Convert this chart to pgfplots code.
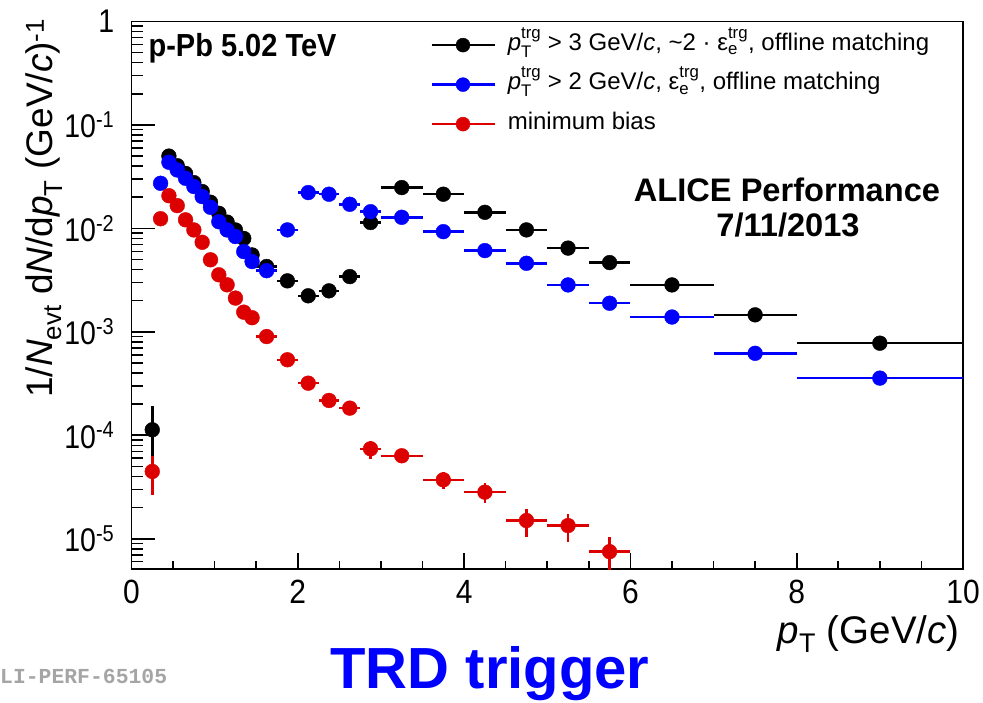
\documentclass[border=0pt]{standalone}
\usepackage{fontspec}
\setmainfont{Liberation Sans}
\setmonofont{Liberation Mono}
\usepackage{amsmath}
\usepackage{graphicx}
\usepackage{pgfplots}
\usepackage{pgfplotstable}
\pgfplotsset{compat=1.18}
\definecolor{rootred}{RGB}{221,0,0}
\definecolor{rootblue}{RGB}{0,0,255}
\definecolor{prelgray}{RGB}{165,165,165}

\pgfplotstableread{
x y ex ey
0.25 1.13e-4 0.05 0.8e-4
0.45 0.0500 0.05 0
0.55 0.0404 0.05 0
0.65 0.0340 0.05 0
0.75 0.0277 0.05 0
0.85 0.0227 0.05 0
0.95 0.0179 0.05 0
1.05 0.0140 0.05 0
1.15 0.0115 0.05 0
1.25 0.00966 0.05 0
1.35 0.00800 0.05 0
1.45 0.00554 0.05 0
1.625 0.00428 0.125 0
1.875 0.00311 0.125 0
2.125 0.00223 0.125 0
2.375 0.00249 0.125 0
2.625 0.00342 0.125 0
2.875 0.0114 0.125 0
3.25 0.0248 0.25 0
3.75 0.0214 0.25 0
4.25 0.0143 0.25 0
4.75 0.00967 0.25 0
5.25 0.00645 0.25 0
5.75 0.00467 0.25 0
6.5 0.00284 0.5 0
7.5 0.00146 0.5 0
9 0.000777 1.0 0
}\tabblack

\pgfplotstableread{
x y ex ey
0.35 0.0273 0.05 0
0.45 0.0436 0.05 0
0.55 0.0367 0.05 0
0.65 0.0305 0.05 0
0.75 0.0254 0.05 0
0.85 0.0203 0.05 0
0.95 0.0160 0.05 0
1.05 0.0116 0.05 0
1.15 0.00966 0.05 0
1.25 0.00834 0.05 0
1.35 0.00597 0.05 0
1.45 0.00478 0.05 0
1.625 0.00390 0.125 0
1.875 0.00967 0.125 0
2.125 0.0222 0.125 0
2.375 0.0214 0.125 0
2.625 0.0171 0.125 0
2.875 0.0145 0.125 0
3.25 0.0128 0.25 0
3.75 0.0093 0.25 0
4.25 0.0061 0.25 0
4.75 0.0046 0.25 0
5.25 0.00284 0.25 0
5.75 0.00189 0.25 0
6.5 0.00139 0.5 0
7.5 0.00062 0.5 0
9 0.000357 1.0 0
}\tabblue

\pgfplotstableread{
x y ex ey
0.25 4.47e-5 0.05 1.8e-5
0.35 0.0124 0.05 0
0.45 0.0207 0.05 0
0.55 0.0166 0.05 0
0.65 0.0121 0.05 0
0.75 0.00966 0.05 0
0.85 0.00734 0.05 0
0.95 0.00497 0.05 0
1.05 0.00356 0.05 0
1.15 0.00285 0.05 0
1.25 0.00212 0.05 0
1.35 0.00155 0.05 0
1.45 0.00137 0.05 0
1.625 9.0e-4 0.125 0
1.875 5.37e-4 0.125 0
2.125 3.19e-4 0.125 0
2.375 2.17e-4 0.125 0
2.625 1.83e-4 0.125 0
2.875 7.4e-5 0.125 1.5e-5
3.25 6.34e-5 0.25 6e-6
3.75 3.71e-5 0.25 7e-6
4.25 2.82e-5 0.25 6.2e-6
4.75 1.50e-5 0.25 4.5e-6
5.25 1.34e-5 0.25 4e-6
5.75 7.5e-6 0.25 3e-6
}\tabred

\newcommand{\ptrg}{\textit{p}$_{\text{T}}^{\text{trg}}$}
\newcommand{\xtl}[1]{\scalebox{1}[1.12]{#1}}
\newcommand{\ytl}[1]{\scalebox{1}[1.15]{10\textsuperscript{#1}}}

\begin{document}
\begin{tikzpicture}
% axis carrying the x ticks
\begin{axis}[
  at={(0pt,0pt)}, anchor=south west,
  scale only axis, width=831.5pt, height=547.5pt,
  xmin=0, xmax=10, ymode=log, ymin=5.096e-6, ymax=1,
  axis line style={line width=1.6pt},
  tick align=inside, tick pos=left,
  every tick/.style={line width=1.6pt, black},
  tick label style={font=\fontsize{30}{36}\selectfont},
  ytick=\empty,
  xtick={0,2,4,6,8,10}, xticklabels={\xtl{0},\xtl{2},\xtl{4},\xtl{6},\xtl{8},\xtl{10}},
  minor x tick num=3,
  major tick length=16pt, minor tick length=8pt,
  xticklabel style={inner ysep=0pt, yshift=-11pt}]
\end{axis}
% main axis with y ticks, data and legend
\begin{axis}[
  at={(0pt,0pt)}, anchor=south west, name=main,
  scale only axis, width=831.5pt, height=547.5pt,
  xmin=0, xmax=10, ymode=log, ymin=5.096e-6, ymax=1,
  axis line style={line width=1.6pt},
  tick align=inside, tick pos=left,
  every tick/.style={line width=1.6pt, black},
  tick label style={font=\fontsize{28.5}{34}\selectfont},
  xtick=\empty,
  ytick={1e-5,1e-4,1e-3,1e-2,1e-1,1},
  yticklabels={\ytl{-5},\ytl{-4},\ytl{-3},\ytl{-2},\ytl{-1},\scalebox{1}[1.15]{1}},
  minor ytick={6e-6,7e-6,8e-6,9e-6,2e-5,3e-5,4e-5,5e-5,6e-5,7e-5,8e-5,9e-5,2e-4,3e-4,4e-4,5e-4,6e-4,7e-4,8e-4,9e-4,2e-3,3e-3,4e-3,5e-3,6e-3,7e-3,8e-3,9e-3,2e-2,3e-2,4e-2,5e-2,6e-2,7e-2,8e-2,9e-2,2e-1,3e-1,4e-1,5e-1,6e-1,7e-1,8e-1,9e-1},
  major tick length=24pt, minor tick length=12pt,
  yticklabel style={inner xsep=0pt, xshift=-17pt},
  legend style={at={(rel axis cs:0.359,0.981)}, anchor=north west,
    draw=none, fill=none, inner sep=0pt,
    font=\fontsize{24}{28}\selectfont,
    row sep=13.5pt, column sep=12pt,
    nodes={inner sep=0pt, text height=18pt, text depth=8pt}},
  legend cell align=left,
]
\addplot[black, only marks, mark=*, mark size=7.4pt, mark options={solid, line width=0.4pt},
  legend image code/.code={\draw[black, line width=2.6pt] (0pt,0pt) -- (63pt,0pt); \fill[black] (31.5pt,0pt) circle (7pt);},
  error bars/.cd, x dir=both, x explicit, y dir=both, y explicit,
  error mark=none, error bar style={line width=2.5pt, solid}]
  table[x=x, y=y, x error=ex, y error=ey] {\tabblack};
\addlegendentry{\ptrg\ > 3 GeV/\textit{c}, \textasciitilde2 · ε$_{\text{e}}^{\text{trg}}$, offline matching}
\addplot[rootblue, only marks, mark=*, mark size=7.4pt, mark options={solid, line width=0.4pt},
  legend image code/.code={\draw[rootblue, line width=2.6pt] (0pt,0pt) -- (63pt,0pt); \fill[rootblue] (31.5pt,0pt) circle (7pt);},
  error bars/.cd, x dir=both, x explicit, y dir=both, y explicit,
  error mark=none, error bar style={line width=2.5pt, solid}]
  table[x=x, y=y, x error=ex, y error=ey] {\tabblue};
\addlegendentry{\ptrg\ > 2 GeV/\textit{c}, ε$_{\text{e}}^{\text{trg}}$, offline matching}
\addplot[rootred, only marks, mark=*, mark size=7.4pt, mark options={solid, line width=0.4pt},
  legend image code/.code={\draw[rootred, line width=2.6pt] (0pt,0pt) -- (63pt,0pt); \fill[rootred] (31.5pt,0pt) circle (7pt);},
  error bars/.cd, x dir=both, x explicit, y dir=both, y explicit,
  error mark=none, error bar style={line width=2.5pt, solid}]
  table[x=x, y=y, x error=ex, y error=ey] {\tabred};
\addlegendentry{minimum bias}
\end{axis}

% titles and annotations (origin = lower left corner of the axis)
\path (-78.5pt,554pt) node[rotate=90, anchor=base east, font=\fontsize{37}{42}\selectfont]
  {1/\textit{N}\textsubscript{evt} d\textit{N}/d\textit{p}\textsubscript{T} (GeV/\textit{c})\textsuperscript{-1}};
\path (831.5pt,-74pt) node[anchor=base east, font=\fontsize{38.5}{44}\selectfont]
  {\textit{p}\textsubscript{T} (GeV/\textit{c})};
\path (13.5pt,512pt) node[anchor=base west, font=\bfseries\fontsize{29}{34}\selectfont] {\scalebox{1}[1.1]{p-Pb 5.02 TeV}};
\path (655.5pt,367pt) node[anchor=base, font=\bfseries\fontsize{32.6}{38}\selectfont] {ALICE Performance};
\path (656.5pt,332pt) node[anchor=base, font=\bfseries\fontsize{32.6}{38}\selectfont] {7/11/2013};
\path (358.5pt,-119pt) node[anchor=base, text=rootblue, font=\bfseries\fontsize{58}{66}\selectfont] {TRD trigger};
\path (-131.5pt,-114pt) node[anchor=base west, inner sep=0pt, text=prelgray, font=\ttfamily\bfseries\fontsize{21.4}{24}\selectfont] {LI-PERF-65105};

\pgfresetboundingbox
\useasboundingbox (-131.5pt,-133pt) rectangle (851.5pt,569pt);
\end{tikzpicture}
\end{document}
